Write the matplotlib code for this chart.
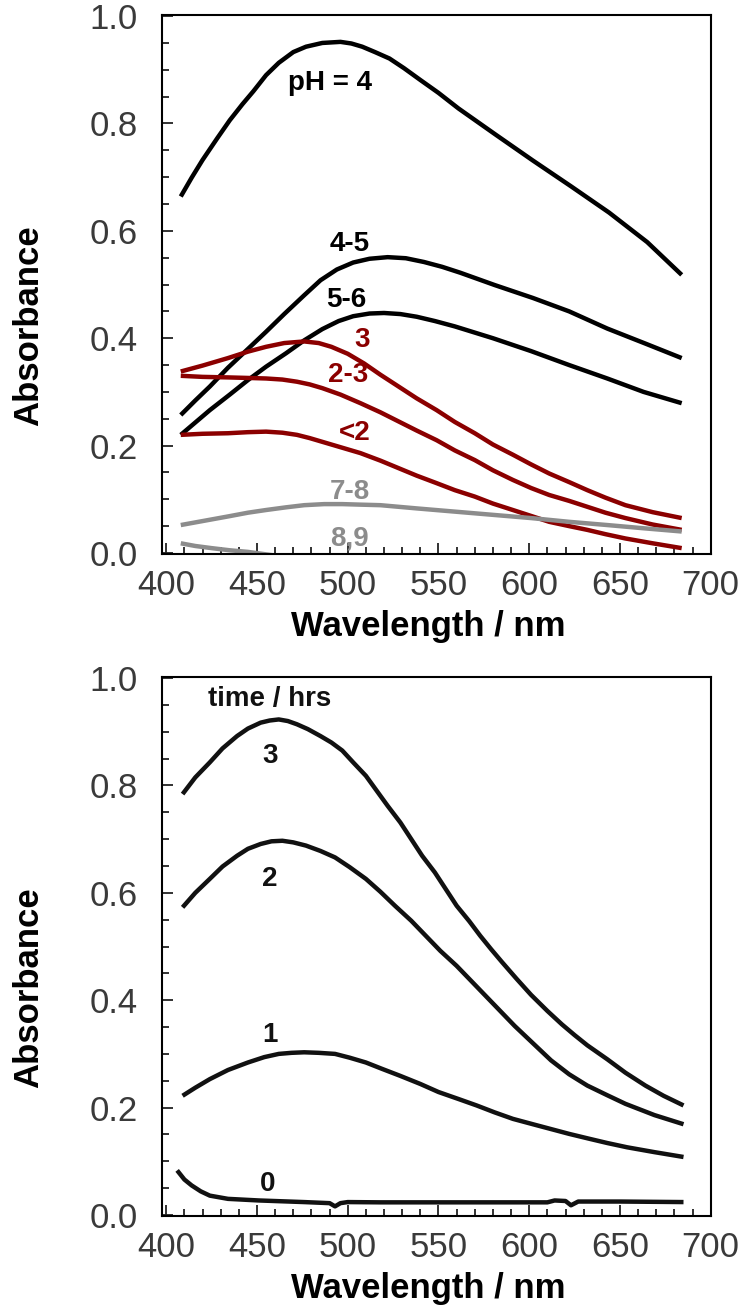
import matplotlib
matplotlib.use("Agg")
import matplotlib.pyplot as plt
from matplotlib.ticker import MultipleLocator, FormatStrFormatter

# ---- top panel: absorbance vs wavelength at different pH ----
wl_ph4 = [408, 414, 420, 428, 435, 442, 448, 455, 462, 470, 477, 486, 496, 502, 508, 515,
          523, 531, 540, 550, 561, 582, 602, 623, 644, 665, 684]
abs_ph4 = [0.664, 0.699, 0.732, 0.772, 0.806, 0.836, 0.86, 0.89, 0.913, 0.933, 0.943, 0.95,
           0.952, 0.949, 0.943, 0.933, 0.921, 0.903, 0.881, 0.857, 0.828, 0.778, 0.731,
           0.683, 0.634, 0.579, 0.518]

wl_ph45 = [408, 416, 424, 434, 445, 455, 465, 476, 485, 494, 503, 512, 522, 532, 542, 552,
           562, 581, 602, 622, 643, 664, 684]
abs_ph45 = [0.257, 0.284, 0.31, 0.345, 0.38, 0.412, 0.445, 0.48, 0.508, 0.528, 0.541, 0.548,
            0.551, 0.549, 0.542, 0.533, 0.522, 0.499, 0.475, 0.45, 0.418, 0.39, 0.363]

wl_ph56 = [408, 416, 424, 435, 445, 455, 466, 476, 486, 495, 503, 512, 520, 529, 538, 548,
           559, 580, 601, 622, 643, 663, 684]
abs_ph56 = [0.22, 0.243, 0.266, 0.295, 0.322, 0.347, 0.372, 0.396, 0.417, 0.432, 0.441, 0.446,
            0.447, 0.445, 0.44, 0.432, 0.422, 0.40, 0.376, 0.35, 0.325, 0.30, 0.279]

wl_ph3 = [408, 420, 434, 445, 455, 465, 476, 484, 491, 500, 509, 518, 528, 538, 549, 559,
          570, 580, 591, 601, 611, 622, 632, 642, 653, 668, 684]
abs_ph3 = [0.338, 0.349, 0.363, 0.375, 0.384, 0.391, 0.394, 0.391, 0.384, 0.371, 0.353, 0.332,
           0.31, 0.288, 0.266, 0.244, 0.223, 0.202, 0.183, 0.165, 0.148, 0.132, 0.117, 0.103,
           0.089, 0.076, 0.065]

wl_ph23 = [408, 420, 434, 445, 455, 464, 472, 479, 486, 496, 507, 518, 528, 538, 549, 559,
           570, 580, 591, 601, 611, 622, 632, 642, 653, 668, 684]
abs_ph23 = [0.33, 0.328, 0.327, 0.326, 0.325, 0.323, 0.319, 0.314, 0.307, 0.295, 0.279, 0.262,
            0.245, 0.228, 0.21, 0.191, 0.173, 0.154, 0.136, 0.121, 0.108, 0.097, 0.086, 0.075,
            0.065, 0.053, 0.043]

wl_ph2 = [408, 420, 434, 445, 455, 464, 472, 479, 486, 496, 507, 518, 528, 538, 549, 559,
          570, 580, 591, 601, 611, 622, 632, 642, 653, 668, 684]
abs_ph2 = [0.22, 0.222, 0.223, 0.225, 0.226, 0.224, 0.22, 0.214, 0.207, 0.197, 0.186, 0.172,
           0.158, 0.144, 0.13, 0.117, 0.105, 0.092, 0.08, 0.069, 0.058, 0.05, 0.043, 0.035,
           0.027, 0.018, 0.009]

wl_ph78 = [408, 421, 434, 445, 455, 466, 476, 487, 497, 507, 518, 528, 538, 559, 580, 601,
           622, 643, 663, 684]
abs_ph78 = [0.052, 0.06, 0.068, 0.075, 0.08, 0.085, 0.089, 0.091, 0.091, 0.09, 0.089, 0.086,
            0.083, 0.077, 0.071, 0.065, 0.058, 0.052, 0.046, 0.04]

wl_ph89 = [408, 416, 425, 435, 445, 458, 470, 490, 684]
abs_ph89 = [0.018, 0.013, 0.009, 0.005, 0.002, -0.004, -0.012, -0.02, -0.02]

# ---- bottom panel: absorbance vs wavelength over time ----
wl_t3 = [409, 416, 424, 431, 439, 445, 452, 457, 462, 467, 472, 478, 485, 491, 497, 503,
         510, 516, 522, 529, 535, 541, 548, 554, 560, 567, 573, 579, 585, 593, 601, 610,
         618, 625, 632, 643, 653, 664, 674, 685]
abs_t3 = [0.784, 0.815, 0.843, 0.869, 0.892, 0.906, 0.917, 0.921, 0.923, 0.92, 0.914, 0.905,
          0.892, 0.88, 0.865, 0.843, 0.818, 0.79, 0.762, 0.731, 0.70, 0.669, 0.638, 0.607,
          0.576, 0.547, 0.52, 0.495, 0.471, 0.44, 0.41, 0.38, 0.355, 0.335, 0.316, 0.29,
          0.265, 0.241, 0.222, 0.204]

wl_t2 = [409, 416, 424, 431, 439, 445, 452, 458, 464, 470, 477, 485, 493, 501, 510, 518,
         526, 535, 543, 551, 560, 568, 576, 584, 592, 602, 612, 622, 632, 643, 653, 669, 685]
abs_t2 = [0.573, 0.6, 0.626, 0.649, 0.669, 0.682, 0.691, 0.696, 0.697, 0.694, 0.688, 0.678,
          0.666, 0.648, 0.626, 0.602, 0.576, 0.548, 0.52, 0.492, 0.464, 0.436, 0.408, 0.38,
          0.352, 0.32, 0.288, 0.262, 0.241, 0.223, 0.207, 0.186, 0.169]

wl_t1 = [409, 416, 424, 434, 445, 454, 462, 469, 476, 484, 493, 501, 510, 519, 529, 540,
         550, 561, 571, 581, 591, 602, 612, 622, 633, 643, 654, 669, 685]
abs_t1 = [0.222, 0.237, 0.253, 0.27, 0.284, 0.294, 0.30, 0.302, 0.303, 0.302, 0.30, 0.293,
          0.284, 0.272, 0.259, 0.244, 0.229, 0.216, 0.204, 0.191, 0.179, 0.169, 0.16, 0.151,
          0.142, 0.134, 0.126, 0.117, 0.108]

wl_t0 = [406, 410, 414, 419, 424, 434, 451, 476, 490, 493, 496, 500, 518, 560, 610, 614, 620,
         623, 627, 650, 685]
abs_t0 = [0.083, 0.066, 0.055, 0.044, 0.036, 0.030, 0.027, 0.024, 0.022, 0.016, 0.022, 0.024,
          0.0235, 0.0235, 0.0235, 0.027, 0.026, 0.018, 0.025, 0.025, 0.024]

black = "#000000"
red = "#8b0000"
grey = "#8c8c8c"

top_lines = [
    (wl_ph4, abs_ph4, black), (wl_ph45, abs_ph45, black), (wl_ph56, abs_ph56, black),
    (wl_ph3, abs_ph3, red), (wl_ph23, abs_ph23, red), (wl_ph2, abs_ph2, red),
    (wl_ph78, abs_ph78, grey), (wl_ph89, abs_ph89, grey),
]
top_notes = [
    ("pH = 4", 490, 0.875, black), ("4-5", 501, 0.575, black), ("5-6", 499, 0.471, black),
    ("3", 508, 0.397, red), ("2-3", 500, 0.332, red), ("<2", 504, 0.223, red),
    ("7-8", 501, 0.114, grey), ("8,9", 501, 0.027, grey),
]

bottom_lines = [(wl_t3, abs_t3), (wl_t2, abs_t2), (wl_t1, abs_t1), (wl_t0, abs_t0)]
bottom_notes = [
    ("time / hrs", 457, 0.962), ("3", 457, 0.855), ("2", 457, 0.626),
    ("1", 457, 0.335), ("0", 456, 0.058),
]

note_font = ["Liberation Sans", "DejaVu Sans"]


def style_axes(ax):
    ax.set_xlim(397.5, 700)
    ax.set_ylim(-0.002, 1.002)
    ax.xaxis.set_major_locator(MultipleLocator(50))
    ax.xaxis.set_minor_locator(MultipleLocator(10))
    ax.yaxis.set_major_locator(MultipleLocator(0.2))
    ax.yaxis.set_minor_locator(MultipleLocator(0.05))
    ax.yaxis.set_major_formatter(FormatStrFormatter("%.1f"))
    ax.tick_params(which="both", direction="in", top=False, right=False,
                   width=1.3, colors="#222222")
    ax.tick_params(which="major", length=8, labelsize=25)
    ax.tick_params(which="minor", length=5)
    ax.tick_params(axis="y", pad=17)
    ax.tick_params(axis="x", pad=11)
    for lab in ax.get_xticklabels() + ax.get_yticklabels():
        lab.set_fontfamily("Liberation Sans")
        lab.set_color("#3a3a3a")
    for sp in ax.spines.values():
        sp.set_linewidth(1.5)
    ax.set_xlabel("Wavelength / nm", fontsize=25, fontweight="bold",
                  fontfamily="Liberation Sans")
    ax.set_ylabel("Absorbance", fontsize=25, fontweight="bold",
                  fontfamily="Liberation Sans")
    ax.xaxis.set_label_coords(0.485, -0.104)
    ax.yaxis.set_label_coords(-0.2126, 0.423)


fig = plt.figure(figsize=(7.49, 13.07), dpi=100)
ax1 = fig.add_axes([0.2159, 0.5761, 0.733, 0.4124])
ax2 = fig.add_axes([0.2159, 0.0696, 0.733, 0.4124])

for wl, ab, col in top_lines:
    ax1.plot(wl, ab, color=col, lw=3.2, solid_joinstyle="round", solid_capstyle="butt")
for txt, x, y, col in top_notes:
    ax1.text(x, y, txt, color=col, fontsize=20, fontweight="bold", family=note_font,
             ha="center", va="center")

for wl, ab in bottom_lines:
    ax2.plot(wl, ab, color="#111111", lw=3.2, solid_joinstyle="round", solid_capstyle="butt")
for txt, x, y in bottom_notes:
    ax2.text(x, y, txt, color="#111111", fontsize=20, fontweight="bold", family=note_font,
             ha="center", va="center")

style_axes(ax1)
style_axes(ax2)

fig.savefig("out.png", dpi=100)
